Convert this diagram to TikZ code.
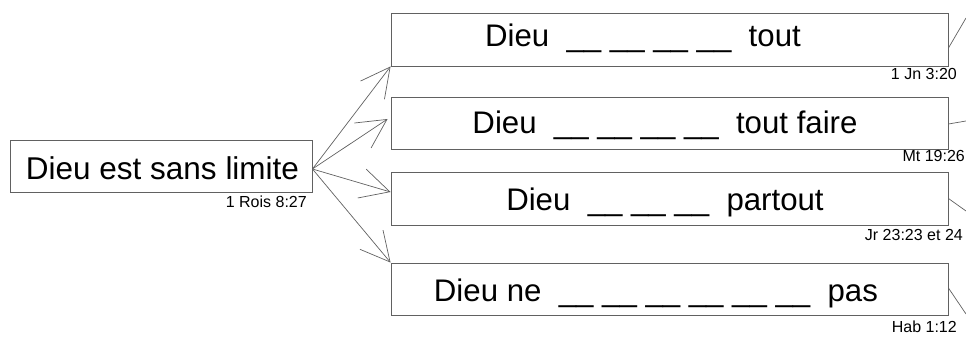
\documentclass[tikz,border=0pt]{standalone}
\usepackage{fontspec}
\setmainfont{Liberation Sans}
\usetikzlibrary{arrows.meta}
\definecolor{linegray}{gray}{0.38}

\begin{document}
\begin{tikzpicture}[x=1pt, y=-1pt,
    box/.style={draw=linegray, line width=0.9pt, inner sep=0pt},
    phrase/.style={font=\fontsize{31.2}{37}\selectfont, inner sep=0pt, anchor=base},
    ref/.style={font=\fontsize{16}{19}\selectfont, inner sep=0pt, anchor=base east},
    link/.style={draw=linegray, line width=0.7pt, -{Straight Barb[length=29pt, width=30pt]}},
    stub/.style={draw=linegray, line width=0.7pt}]
    \useasboundingbox (0,0) rectangle (966,342);

    % idee centrale
    \node[box, minimum width=302pt, minimum height=52pt] (src) at (161,166) {};
    \node[phrase, font=\fontsize{31.5}{37}\selectfont] (srctext) at (162.5,179) {Dieu est sans limite};
    \node[ref] (srcref) at (307,207) {1 Rois 8:27};

    % les quatre phrases a completer
    \node[box, minimum width=557pt, minimum height=53pt] (b1) at (669.5,39.5) {};
    \node[box, minimum width=557pt, minimum height=52pt] (b2) at (669.5,123) {};
    \node[box, minimum width=557pt, minimum height=53pt] (b3) at (669.5,198.5) {};
    \node[box, minimum width=557pt, minimum height=52pt] (b4) at (669.5,289) {};

    \node[phrase] (t1) at (643,47) {Dieu\ \ \_\_ \_\_ \_\_ \_\_\ \ tout};
    \node[phrase] (t2) at (665,133) {Dieu\ \ \_\_ \_\_ \_\_ \_\_\ \ tout faire};
    \node[phrase] (t3) at (665,210) {Dieu\ \ \_\_ \_\_ \_\_\ \ partout};
    \node[phrase] (t4) at (656,301) {Dieu ne\ \ \_\_ \_\_ \_\_ \_\_ \_\_ \_\_\ \ pas};

    \node[ref] (r1) at (957,80) {1 Jn 3:20};
    \node[ref] (r2) at (965,161) {Mt 19:26};
    \node[ref] (r3) at (963,240) {Jr 23:23 et 24};
    \node[ref] (r4) at (957,332) {Hab 1:12};

    % fleches
    \coordinate (out) at ([yshift=-3pt]src.east);
    \draw[link] (out) -- (b1.south west);
    \draw[link] (out) -- ([xshift=-3pt, yshift=4pt]b2.west);
    \draw[link] (out) -- ([yshift=6.5pt]b3.west);
    \draw[link] (out) -- (b4.north west);

    % traits vers la suite
    \coordinate (e1) at (966,18);
    \coordinate (e2) at (966,121);
    \coordinate (e3) at (966,211);
    \coordinate (e4) at (966,314);
    \draw[stub] ([yshift=-8.5pt]b1.east) -- (e1);
    \draw[stub] ([yshift=-1pt]b2.east) -- (e2);
    \draw[stub] (b3.east) -- (e3);
    \draw[stub] ([yshift=1pt]b4.east) -- (e4);
\end{tikzpicture}
\end{document}
